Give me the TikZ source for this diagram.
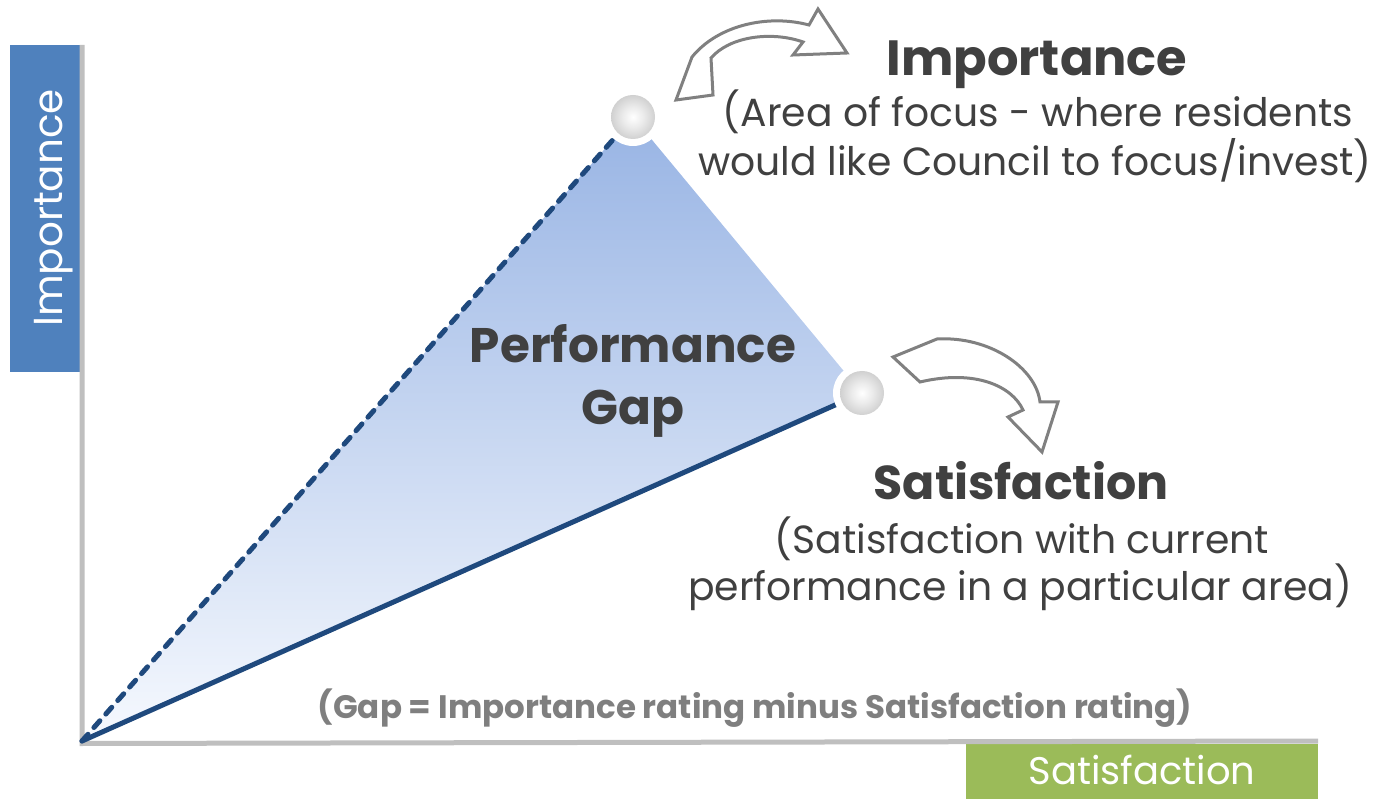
\documentclass[tikz,border=0pt]{standalone}
\usepackage{fontspec}
\setmainfont{Poppins}
\usetikzlibrary{shadings}
\definecolor{boxblue}{RGB}{79,129,189}
\definecolor{boxgreen}{RGB}{155,187,89}
\definecolor{axisgray}{RGB}{191,191,191}
\definecolor{linedark}{RGB}{31,73,125}
\definecolor{txtdark}{RGB}{64,64,64}
\definecolor{txtgray}{RGB}{127,127,127}
\definecolor{arrowgray}{RGB}{128,128,128}
\definecolor{fillTop}{RGB}{152,180,228}
\definecolor{fillBot}{RGB}{246,249,254}
\pgfdeclareradialshading{sphereshade}{\pgfpoint{0bp}{0bp}}{color(0bp)=(white); color(12bp)=(white!92!black); color(50bp)=(black!38)}
\tikzset{
  axisline/.style={draw=axisgray, line width=5pt},
  gapline/.style={draw=linedark, line width=5pt, line cap=round},
  bigtitle/.style={text=txtdark, font=\bfseries\fontsize{48.5}{48.5}\selectfont, anchor=base, inner sep=0pt},
  subtxt/.style={text=txtdark, font=\fontsize{39.3}{39.3}\selectfont, anchor=base, inner sep=0pt},
  notetxt/.style={text=txtgray, font=\bfseries\fontsize{32.5}{32.5}\selectfont, anchor=base, inner sep=0pt},
  axistxt/.style={text=white, font=\fontsize{39}{39}\selectfont, anchor=base, inner sep=0pt},
  curvearrow/.style={draw=arrowgray, fill=white, line width=3pt, line join=miter},
  sphere/.style={circle, minimum size=44pt, inner sep=0pt, shading=sphereshade},
  ring/.style={circle, fill=white, minimum size=58pt, inner sep=0pt},
}
\begin{document}
\begin{tikzpicture}[x=1pt,y=-1pt]
\useasboundingbox (0,0) rectangle (1377,799);
% axis label boxes
\fill[boxblue] (10,45) rectangle (80,372);
\fill[boxgreen] (966,744) rectangle (1318,799);
\node[axistxt, rotate=90, font=\fontsize{40.5}{40.5}\selectfont] (ylab) at (62,208) {Importance};
\node[axistxt, font=\fontsize{38.5}{38.5}\selectfont] (xlab) at (1142,784) {Satisfaction};
% axes
\coordinate (O) at (82,741);
\coordinate (ytop) at (82,45);
\coordinate (xend) at (1318,741);
\draw[axisline] (ytop) -- (82,743.5) -- (xend);
% triangle
\coordinate (A) at (633,117);
\coordinate (B) at (862,393);
\shade[top color=fillTop, bottom color=fillBot] (O) -- (A) -- (B) -- cycle;
\draw[gapline, dash pattern=on 9pt off 9pt] (O) -- (A);
\draw[gapline] (O) -- (B);
% spheres
\node[ring] (ringA) at (A) {};
\node[ring] (ringB) at (B) {};
\node[sphere] (sphA) at (A) {};
\node[sphere] (sphB) at (B) {};
% curved arrows
\draw[curvearrow] (676,100) -- (692,57) .. controls (718,25) and (768,14) .. (809,25)
  -- (818,9) -- (847,53) -- (793,55) -- (803,42)
  .. controls (772,31) and (730,36) .. (711,58) -- (713,95) -- cycle;
\draw[curvearrow] (893,357) -- (937,339) .. controls (990,336) and (1036,368) .. (1040,402)
  -- (1058,402) -- (1042,452) -- (1008,417) -- (1023,410)
  .. controls (1012,386) and (975,369) .. (920,382) -- cycle;
% texts
\node[bigtitle, font=\bfseries\fontsize{49.5}{49.5}\selectfont] (impT) at (1037,76) {Importance};
\node[subtxt] (impS1) at (1038,127) {(Area of focus - where residents};
\node[subtxt] (impS2) at (1035,176) {would like Council to focus/invest)};
\node[bigtitle] (pg1) at (633,363) {Performance};
\node[bigtitle] (pg2) at (633,425) {Gap};
\node[bigtitle, font=\bfseries\fontsize{47.5}{47.5}\selectfont] (satT) at (1021,500) {Satisfaction};
\node[subtxt] (satS1) at (1022,553) {(Satisfaction with current};
\node[subtxt] (satS2) at (1020,600) {performance in a particular area)};
\node[notetxt] (note) at (755,718) {(Gap = Importance rating minus Satisfaction rating)};
\end{tikzpicture}
\end{document}
